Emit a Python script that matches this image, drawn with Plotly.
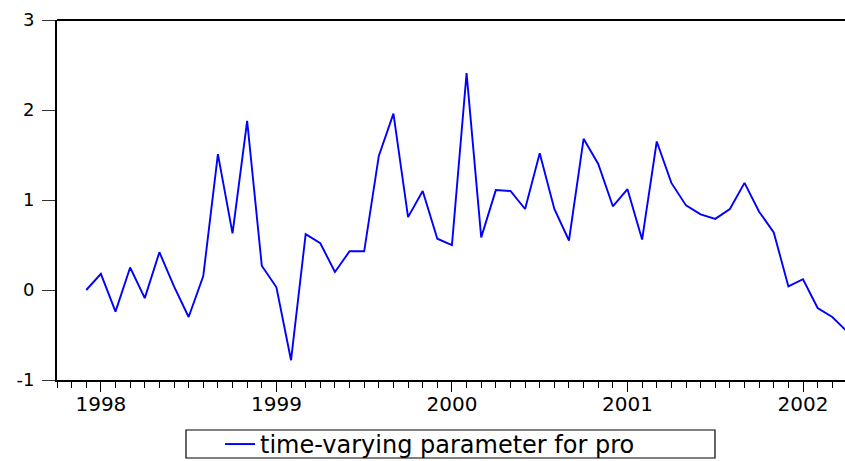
import plotly.graph_objects as go

periods = ["1997M12",
           "1998M01", "1998M02", "1998M03", "1998M04", "1998M05", "1998M06",
           "1998M07", "1998M08", "1998M09", "1998M10", "1998M11", "1998M12",
           "1999M01", "1999M02", "1999M03", "1999M04", "1999M05", "1999M06",
           "1999M07", "1999M08", "1999M09", "1999M10", "1999M11", "1999M12",
           "2000M01", "2000M02", "2000M03", "2000M04", "2000M05", "2000M06",
           "2000M07", "2000M08", "2000M09", "2000M10", "2000M11", "2000M12",
           "2001M01", "2001M02", "2001M03", "2001M04", "2001M05", "2001M06",
           "2001M07", "2001M08", "2001M09", "2001M10", "2001M11", "2001M12",
           "2002M01", "2002M02", "2002M03", "2002M04"]

values = [0.00,
          0.18, -0.24, 0.25, -0.09, 0.42, 0.04,
          -0.30, 0.155, 1.51, 0.63, 1.88, 0.27,
          0.03, -0.78, 0.62, 0.52, 0.20, 0.43,
          0.43, 1.49, 1.96, 0.81, 1.10, 0.57,
          0.50, 2.41, 0.585, 1.11, 1.10, 0.90,
          1.52, 0.90, 0.55, 1.68, 1.40, 0.93,
          1.12, 0.56, 1.65, 1.19, 0.94, 0.84,
          0.79, 0.90, 1.19, 0.87, 0.64, 0.04,
          0.12, -0.20, -0.30, -0.46]

y_ticks = [-1, 0, 1, 2, 3]
y_ticktext = ["-1", "0", "1", "2", "3"]

series_name = "time-varying parameter for pro"

x_idx = list(range(len(periods)))
year_tickvals = [i for i, p in enumerate(periods) if p.endswith("M01")]
year_ticktext = [periods[i][:4] for i in year_tickvals]

FONT = "DejaVu Sans"

fig = go.Figure()
fig.add_trace(go.Scatter(
    x=x_idx, y=values, mode="lines", name=series_name,
    line=dict(color="#0000FF", width=1.9),
))

fig.update_layout(
    width=845, height=461,
    margin=dict(l=57, r=0, t=20, b=81, autoexpand=False),
    paper_bgcolor="white", plot_bgcolor="white",
    showlegend=True,
    legend=dict(
        orientation="h", x=0.2069, y=-0.179, xanchor="left", yanchor="middle",
        borderwidth=0, bgcolor="rgba(0,0,0,0)",
        font=dict(family=FONT, size=24, color="black"),
    ),
    font=dict(family=FONT, color="black"),
)

fig.update_xaxes(
    range=[-2, 51.87], automargin=False,
    showgrid=False, zeroline=False,
    showline=True, linecolor="black", linewidth=1.5,
    tickmode="array", tickvals=year_tickvals, ticktext=year_ticktext,
    ticks="outside", ticklen=10, tickwidth=1.3, tickcolor="black",
    tickfont=dict(family=FONT, size=20, color="black"),
    ticklabelstandoff=-5,
    minor=dict(dtick=1, tick0=0, ticks="outside", ticklen=6, tickwidth=1.3, tickcolor="black", showgrid=False),
)
fig.update_yaxes(
    range=[-1, 3], automargin=False,
    showgrid=False, zeroline=False,
    showline=True, linecolor="black", linewidth=2,
    tickmode="array", tickvals=y_ticks, ticktext=y_ticktext,
    ticks="outside", ticklen=13, tickwidth=1.3, tickcolor="#333333",
    tickfont=dict(family=FONT, size=18, color="black"),
    ticklabelstandoff=4,
)

# top frame line
fig.add_shape(type="line", xref="paper", yref="paper", x0=0, x1=1, y0=1, y1=1,
              line=dict(color="black", width=2))
# legend frame
fig.add_shape(type="rect", xref="paper", yref="paper",
              x0=0.1637, x1=0.835, y0=-0.2167, y1=-0.1389,
              line=dict(color="black", width=1.2), fillcolor="rgba(0,0,0,0)")

fig.write_html("out.html", config={"displayModeBar": False},
               post_script="document.body.style.margin='0';")
